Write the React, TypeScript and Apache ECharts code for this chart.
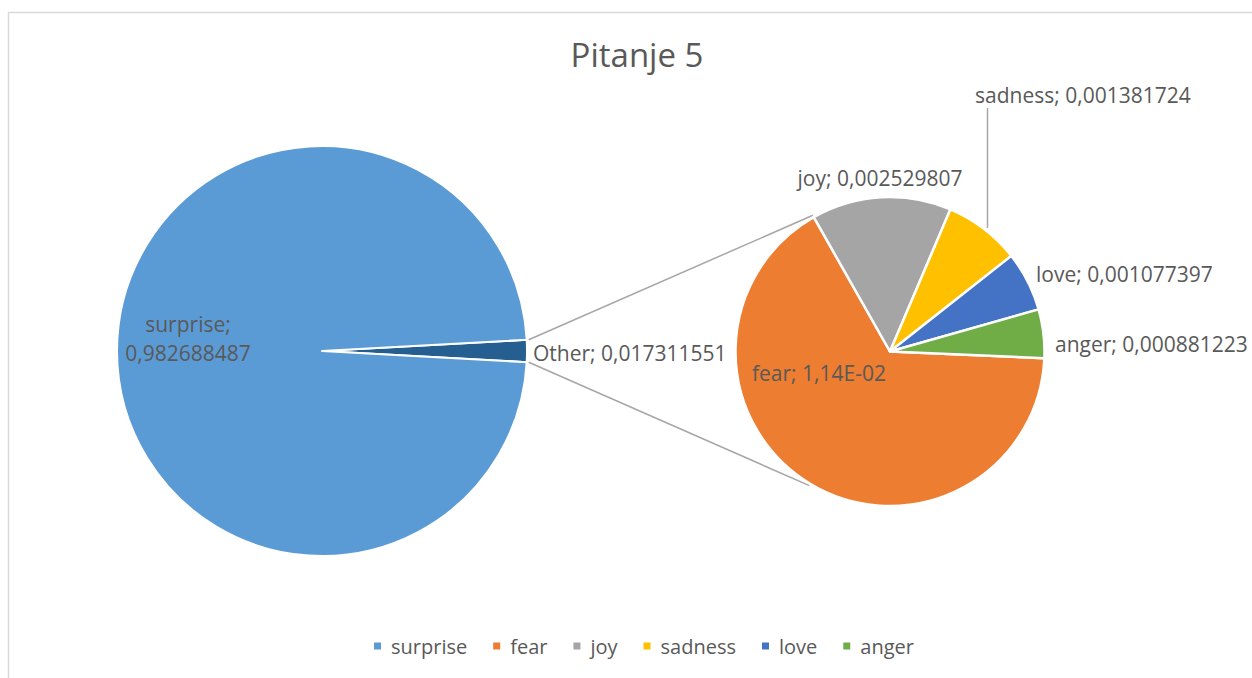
import React, { useEffect, useRef } from "react";
import * as echarts from "echarts";

const TITLE = "Pitanje 5";
const mainCategories = ["Other", "surprise"];
const mainValues = [0.017311551, 0.982688487];
const subCategories = ["fear", "joy", "sadness", "love", "anger"];
const subValues = [0.0114414, 0.002529807, 0.001381724, 0.001077397, 0.000881223];
const legendItems = ["surprise", "fear", "joy", "sadness", "love", "anger"];

const COLORS: Record<string, string> = {
  Other: "#255E91",
  surprise: "#5B9BD5",
  fear: "#ED7D31",
  joy: "#A5A5A5",
  sadness: "#FFC000",
  love: "#4472C4",
  anger: "#70AD47",
};

const FONT = "'Open Sans', 'Liberation Sans', sans-serif";
const TEXT = "#595959";
const LINE = "#A6A6A6";

const C1 = [322, 351];
const R1 = 205;
const C2 = [890, 351.5];
const R2 = 154.5;

type LP = { dx: number; dy: number; align: string };
const labelPos: Record<string, LP> = {
  Other: { dx: R1 + 6, dy: 2, align: "left" },
  surprise: { dx: -134, dy: -12.6, align: "center" },
  fear: { dx: -138, dy: 21.4, align: "left" },
  joy: { dx: -10, dy: -174, align: "center" },
  sadness: { dx: 85, dy: -257, align: "left" },
  love: { dx: 146, dy: -77.6, align: "left" },
  anger: { dx: 165, dy: -7.3, align: "left" },
};

function fmtValue(name: string, v: number): string {
  if (name === "fear") {
    const [m, e] = v.toExponential(2).split("e");
    const exp = parseInt(e, 10);
    const sign = exp < 0 ? "-" : "+";
    const abs = Math.abs(exp).toString().padStart(2, "0");
    return m.replace(".", ",") + "E" + sign + abs;
  }
  return v.toFixed(9).replace(".", ",");
}

function fmtLabel(name: string, v: number): string {
  if (name === "surprise") return name + ";\n" + fmtValue(name, v);
  return name + "; " + fmtValue(name, v);
}

const sum = (a: number[]) => a.reduce((s, x) => s + x, 0);

export default function App() {
  const ref = useRef<HTMLDivElement>(null);

  useEffect(() => {
    document.body.style.margin = "0";
    document.body.style.overflow = "hidden";
    if (!ref.current) return;
    const chart = echarts.init(ref.current, null, { renderer: "svg" });

    const mainTotal = sum(mainValues);
    const otherHalf = (mainValues[0] / mainTotal) * 180;
    const startMain = otherHalf;
    const startSub = -2.5;

    const toRad = (d: number) => (d * Math.PI) / 180;
    const pt = (c: number[], r: number, deg: number) => [
      c[0] + r * Math.cos(toRad(deg)),
      c[1] - r * Math.sin(toRad(deg)),
    ];

    const topA = pt(C1, R1 + 2, otherHalf);
    const botA = pt(C1, R1 + 2, -otherHalf);
    const topB = pt(C2, R2 + 2, 119.5);
    const botB = pt(C2, R2 + 2, -121);

    const makeLayout = (cats: string[], center: number[]) => (params: any) => {
      const name = cats[params.dataIndex];
      const p = labelPos[name];
      return {
        x: center[0] + p.dx,
        y: center[1] + p.dy,
        align: p.align,
        verticalAlign: "middle",
      };
    };

    const labelCommon = {
      show: true,
      position: "inside",
      fontFamily: FONT,
      fontSize: 21,
      lineHeight: 28.3,
      color: TEXT,
      overflow: "none",
      formatter: (p: any) => fmtLabel(p.name, p.value),
    };

    chart.setOption({
      animation: false,
      backgroundColor: "#ffffff",
      title: {
        text: TITLE,
        left: 637,
        top: 38,
        textAlign: "center",
        padding: 0,
        textStyle: {
          fontFamily: FONT,
          fontSize: 33,
          fontWeight: "normal",
          color: TEXT,
        },
      },
      legend: {
        data: legendItems,
        left: 372,
        top: 636,
        padding: 0,
        itemWidth: 9,
        itemHeight: 9,
        itemGap: 24,
        icon: "rect",
        selectedMode: false,
        textStyle: {
          fontFamily: FONT,
          fontSize: 20,
          color: TEXT,
          padding: [0, 0, 0, 4],
        },
      },
      graphic: [
        {
          type: "rect",
          z: -10,
          shape: { x: 8.5, y: 12.5, width: 1400, height: 800 },
          style: { fill: "none", stroke: "#D9D9D9", lineWidth: 1.5 },
          silent: true,
        },
        {
          type: "line",
          z: -5,
          shape: { x1: topA[0], y1: topA[1], x2: topB[0], y2: topB[1] },
          style: { stroke: LINE, lineWidth: 1.5 },
          silent: true,
        },
        {
          type: "line",
          z: -5,
          shape: { x1: botA[0], y1: botA[1], x2: botB[0], y2: botB[1] },
          style: { stroke: LINE, lineWidth: 1.5 },
          silent: true,
        },
        {
          type: "line",
          z: -5,
          shape: {
            x1: C2[0] + 97.5,
            y1: C2[1] - 123.5,
            x2: C2[0] + 97.5,
            y2: C2[1] - 243.5,
          },
          style: { stroke: LINE, lineWidth: 1.5 },
          silent: true,
        },
      ],
      series: [
        {
          type: "pie",
          center: C1,
          radius: R1,
          startAngle: startMain,
          clockwise: true,
          avoidLabelOverlap: false,
          emphasis: { disabled: true },
          itemStyle: { borderColor: "#ffffff", borderWidth: 2 },
          label: labelCommon,
          labelLine: { show: false },
          labelLayout: makeLayout(mainCategories, C1),
          data: mainCategories.map((n, i) => ({
            name: n,
            value: mainValues[i],
            itemStyle: { color: COLORS[n] },
          })),
        },
        {
          type: "pie",
          center: C2,
          radius: R2,
          startAngle: startSub,
          clockwise: true,
          avoidLabelOverlap: false,
          emphasis: { disabled: true },
          itemStyle: { borderColor: "#ffffff", borderWidth: 2.5 },
          label: labelCommon,
          labelLine: { show: false },
          labelLayout: makeLayout(subCategories, C2),
          data: subCategories.map((n, i) => ({
            name: n,
            value: subValues[i],
            itemStyle: { color: COLORS[n] },
          })),
        },
      ],
    });

    return () => chart.dispose();
  }, []);

  return <div ref={ref} style={{ width: 1252, height: 678 }} />;
}
